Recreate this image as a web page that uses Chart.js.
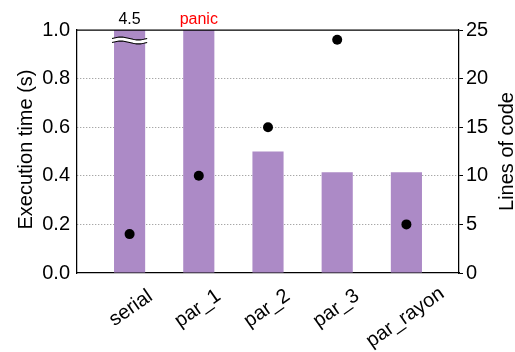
<!DOCTYPE html>
<html><head><meta charset="utf-8">
<script src="https://cdn.jsdelivr.net/npm/chart.js@4/dist/chart.umd.min.js"></script>
<style>html,body{margin:0;padding:0;background:#fff;} canvas{display:block;}</style>
</head><body>
<canvas id="c" width="515" height="352"></canvas>
<script>
// ---- data ----
const categories   = ['serial', 'par_1', 'par_2', 'par_3', 'par_rayon'];
const execTime     = [4.5, 1.0, 0.5, 0.415, 0.415];   // par_1 panicked: bar drawn full height
const barNotes     = ['4.5', 'panic', '', '', ''];
const noteColors   = ['#000000', '#ff0000', '#000000', '#000000', '#000000'];
const brokenBars   = [true, false, false, false, false];
const linesOfCode  = [4, 10, 15, 24, 5];
const leftTicks    = [0, 0.2, 0.4, 0.6, 0.8, 1.0];
const rightTicks   = [0, 5, 10, 15, 20, 25];
const leftTitle    = 'Execution time (s)';
const rightTitle   = 'Lines of code';

const FONT = '"Liberation Sans", Arial, Helvetica, sans-serif';
Chart.defaults.font.family = FONT;
Chart.defaults.color = '#000';

const deco = {
  id: 'deco',
  afterDatasetsDraw(chart) {
    const ctx = chart.ctx, a = chart.chartArea;
    const meta = chart.getDatasetMeta(1);
    meta.data.forEach((bar, i) => {
      if (brokenBars[i]) {
        const w = bar.width + 4, x0 = bar.x - w / 2;
        const c1 = a.top + 8.5, c2 = a.top + 12.5, A = 1.4, N = 30;
        const yAt = (c, t) => c - A * Math.sin(2 * Math.PI * t);
        ctx.save();
        ctx.beginPath();
        for (let k = 0; k <= N; k++) { const t = k / N; const x = x0 + w * t; k ? ctx.lineTo(x, yAt(c1, t)) : ctx.moveTo(x, yAt(c1, t)); }
        for (let k = N; k >= 0; k--) { const t = k / N; ctx.lineTo(x0 + w * t, yAt(c2, t)); }
        ctx.closePath();
        ctx.fillStyle = '#fff'; ctx.fill();
        ctx.strokeStyle = '#000'; ctx.lineWidth = 1.1;
        [c1, c2].forEach(c => {
          ctx.beginPath();
          for (let k = 0; k <= N; k++) { const t = k / N; const x = x0 + w * t; k ? ctx.lineTo(x, yAt(c, t)) : ctx.moveTo(x, yAt(c, t)); }
          ctx.stroke();
        });
        ctx.restore();
      }
      if (barNotes[i]) {
        ctx.save();
        ctx.font = '16px ' + FONT;
        ctx.fillStyle = noteColors[i];
        ctx.textAlign = 'center'; ctx.textBaseline = 'alphabetic';
        ctx.fillText(barNotes[i], bar.x, a.top - 6);
        ctx.restore();
      }
    });
  },
  afterDraw(chart) {
    const ctx = chart.ctx, a = chart.chartArea;
    // top spine
    ctx.save();
    ctx.strokeStyle = '#000'; ctx.lineWidth = 1.25;
    ctx.beginPath(); ctx.moveTo(a.left, a.top); ctx.lineTo(a.right, a.top); ctx.stroke();
    ctx.restore();
    // rotated category labels
    const xs = chart.scales.x;
    const th = 35 * Math.PI / 180, cs = Math.cos(th), sn = Math.sin(th);
    ctx.save();
    ctx.font = '20px ' + FONT;
    ctx.fillStyle = '#000';
    ctx.textAlign = 'left'; ctx.textBaseline = 'alphabetic';
    categories.forEach((txt, i) => {
      const px = xs.getPixelForValue(i);
      const m = ctx.measureText(txt);
      const L = -m.actualBoundingBoxLeft, R = m.actualBoundingBoxRight;
      const T = -m.actualBoundingBoxAscent, B = m.actualBoundingBoxDescent;
      const pts = [[L, T], [R, T], [L, B], [R, B]].map(([x, y]) => [x * cs + y * sn, -x * sn + y * cs]);
      const minX = Math.min(...pts.map(p => p[0])), maxX = Math.max(...pts.map(p => p[0]));
      const minY = Math.min(...pts.map(p => p[1]));
      const ox = px - (minX + maxX) / 2, oy = a.bottom + 14 - minY;
      ctx.save();
      ctx.translate(ox, oy); ctx.rotate(-th);
      ctx.fillText(txt, 0, 0);
      ctx.restore();
    });
    ctx.restore();
    // axis titles (both reading bottom-to-top)
    const cy = (a.top + a.bottom) / 2;
    ctx.save();
    ctx.font = '20px ' + FONT;
    ctx.fillStyle = '#000';
    ctx.textAlign = 'center'; ctx.textBaseline = 'alphabetic';
    ctx.save(); ctx.translate(32, cy - 2); ctx.rotate(-Math.PI / 2); ctx.fillText(leftTitle, 0, 0); ctx.restore();
    ctx.save(); ctx.translate(513, cy); ctx.rotate(-Math.PI / 2); ctx.fillText(rightTitle, 0, 0); ctx.restore();
    ctx.restore();
  }
};

new Chart(document.getElementById('c'), {
  type: 'bar',
  data: {
    datasets: [
      {
        type: 'scatter', label: rightTitle,
        data: linesOfCode.map((v, i) => ({ x: i, y: v })),
        xAxisID: 'x', yAxisID: 'y2',
        backgroundColor: '#000', borderColor: '#000',
        pointRadius: 5, pointBorderWidth: 0, order: 0
      },
      {
        type: 'bar', label: leftTitle,
        data: execTime.map((v, i) => ({ x: i, y: v })),
        xAxisID: 'x', yAxisID: 'y',
        backgroundColor: 'rgb(172,138,198)',
        barPercentage: 0.9, categoryPercentage: 0.5, order: 1
      }
    ]
  },
  options: {
    responsive: false, animation: false, devicePixelRatio: 1,
    layout: { padding: { top: 30, left: 0, right: 0, bottom: 0 } },
    plugins: { legend: { display: false }, tooltip: { enabled: false } },
    scales: {
      x: {
        type: 'linear', position: 'bottom', min: -0.76, max: 4.76, offset: false,
        afterBuildTicks(s) { s.ticks = categories.map((_, i) => ({ value: i })); },
        ticks: { display: false },
        grid: { display: false, offset: false },
        border: { display: true, color: '#000', width: 1.25 },
        afterFit(s) { s.height = 79; }
      },
      y: {
        position: 'left', min: 0, max: 1,
        afterBuildTicks(s) { s.ticks = leftTicks.map(v => ({ value: v })); },
        ticks: { font: { size: 20 }, color: '#000', padding: 7, callback: v => Number(v).toFixed(1) },
        grid: {
          drawTicks: false, lineWidth: 1,
          color: c => (c.tick && (c.tick.value === 0 || c.tick.value === 1)) ? 'rgba(0,0,0,0)' : '#8a8a8a'
        },
        border: { display: true, color: '#000', width: 1.25, dash: [1, 2] },
        afterFit(s) { s.width = 77; }
      },
      y2: {
        position: 'right', min: 0, max: 25,
        afterBuildTicks(s) { s.ticks = rightTicks.map(v => ({ value: v })); },
        ticks: { font: { size: 20 }, color: '#000', padding: 3 },
        grid: { drawOnChartArea: false, drawTicks: true, tickLength: 4, tickColor: '#000', tickWidth: 1 },
        border: { display: true, color: '#000', width: 1.25 },
        afterFit(s) { s.width = 56; }
      }
    }
  },
  plugins: [deco]
});
</script>
</body></html>
